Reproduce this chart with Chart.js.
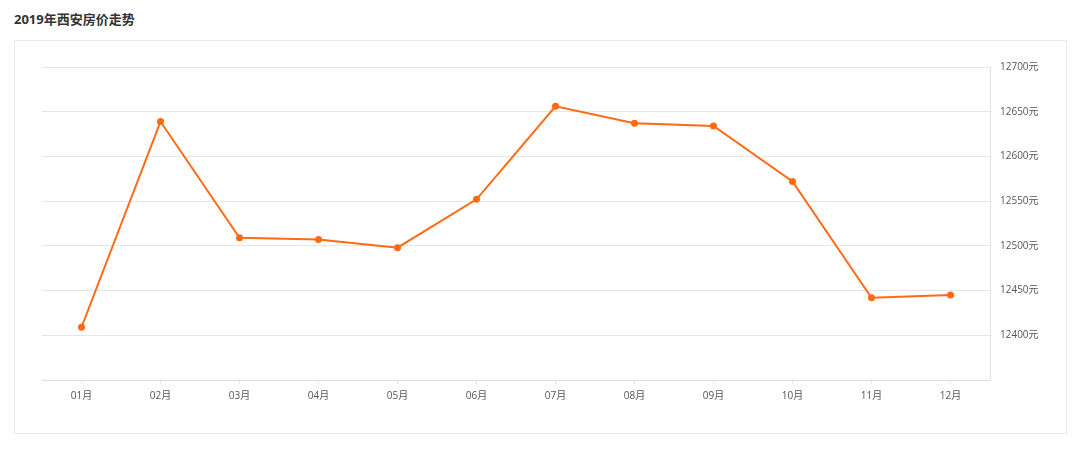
<!DOCTYPE html>
<html><head><meta charset="utf-8">
<script src="https://cdn.jsdelivr.net/npm/chart.js@4/dist/chart.umd.min.js"></script>
<style>
html,body{margin:0;padding:0;background:#fff;width:1080px;height:449px;overflow:hidden;}
#title{position:absolute;left:14px;top:9px;font:bold 13px "Open Sans","Noto Sans CJK SC",sans-serif;color:#333;}
#box{position:absolute;left:14px;top:40px;width:1053px;height:394px;border:1px solid #e8e8e8;box-sizing:border-box;}
#wrap{position:absolute;left:14px;top:40px;width:1054px;height:395px;}
</style></head><body>
<div id="title">2019年西安房价走势</div>
<div id="box"></div>
<div id="wrap"><canvas id="c"></canvas></div>
<script>
const categories = ["01月","02月","03月","04月","05月","06月","07月","08月","09月","10月","11月","12月"];
const prices = [12409,12639,12509,12507,12498,12552,12656,12637,12634,12572,12442,12445];
const yMin = 12350, yMax = 12700, yStep = 50;
const unit = "元";

new Chart(document.getElementById('c'), {
  type: 'line',
  data: { labels: categories, datasets: [{
    data: prices,
    borderColor: '#ff6a13',
    backgroundColor: '#ff6a13',
    borderWidth: 2,
    pointRadius: 3.5,
    pointHoverRadius: 3.5,
    pointBackgroundColor: '#ff6a13',
    pointBorderWidth: 0,
    tension: 0,
    fill: false
  }]},
  options: {
    responsive: true,
    maintainAspectRatio: false,
    animation: false,
    layout: { padding: { left: 28, top: 27, right: 0, bottom: 0 } },
    plugins: { legend: { display: false }, tooltip: { enabled: false } },
    scales: {
      x: {
        offset: true,
        grid: { offset: false, drawOnChartArea: false, drawTicks: true, tickLength: 4, color: '#e6e6e6' },
        border: { display: true, color: '#dcdcdc', width: 1 },
        ticks: { color: '#555', font: { size: 10, family: '"Open Sans","Noto Sans CJK SC",sans-serif' }, padding: 6, maxRotation: 0 },
        afterFit: s => { s.height = 55; }
      },
      y: {
        position: 'right',
        min: yMin, max: yMax,
        grid: { color: '#e6e6e6', drawTicks: false },
        border: { display: true, color: '#e0e0e0', width: 1 },
        ticks: {
          stepSize: yStep,
          padding: 10,
          color: '#555',
          font: { size: 10, family: '"Open Sans","Noto Sans CJK SC",sans-serif' },
          callback: v => v === yMin ? '' : v + unit
        },
        afterFit: s => { s.width = 78; }
      }
    }
  }
});
</script>
</body></html>
